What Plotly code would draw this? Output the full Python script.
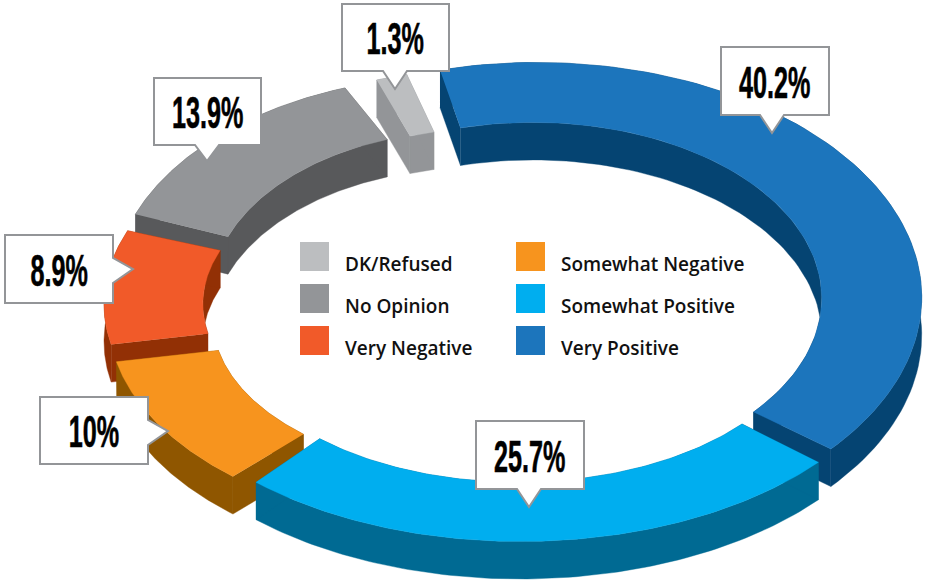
import numpy as np
import plotly.graph_objects as go

# ---- data, clockwise from the top ----
categories = ["Very Positive", "Somewhat Positive", "Somewhat Negative",
              "Very Negative", "No Opinion", "DK/Refused"]
shares = [40.2, 25.7, 10, 8.9, 13.9, 1.3]
value_labels = ["40.2%", "25.7%", "10%", "8.9%", "13.9%", "1.3%"]

# ---- style ----
TOP = ["#1C75BC", "#00AEEF", "#F7941E", "#F15A29", "#939598", "#BCBEC0"]
SIDE = ["#054472", "#006A93", "#8F5600", "#923005", "#58595B", "#939598"]
# slice centre and radii on screen (the picture's perspective and explosion)
CENTRES = [(536.7, 297.5), (520.5, 318), (494, 320), (470, 304), (459, 290), (503.5, 300)]
RADII_X = [385, 390, 385, 366, 346, 385]
RADII_Y = [235, 223.5, 213, 207, 214, 233]
HOLE_CENTRES = [(533, 298.4), (518.3, 318), (494, 320), (470, 304), (473.6, 295), (511, 300)]
HOLES_X = [0.75, 0.751, 0.73, 0.73, 0.759, 0.797]
HOLES_Y = [0.749, 0.735, 0.73, 0.73, 0.77, 0.745]
DEPTH, START = 37.5, -14.55
DRAW_ORDER = [0, 5, 4, 3, 2, 1]
BOXES = {  # callout box x0, y0, x1, y1, then pointer side and pointer tip
    "40.2%": (721, 47, 829, 115, "b", 772, 133),
    "25.7%": (476, 421, 584, 489, "b", 529, 507),
    "10%": (40, 397, 148, 464, "r", 168, 431),
    "8.9%": (5, 235, 113, 303, "r", 133, 269),
    "13.9%": (154, 78, 261, 145, "b", 207, 161),
    "1.3%": (342, 4, 449, 71, "b", 395, 89),
}
LEGEND = [("DK/Refused", 0, 0), ("No Opinion", 0, 1), ("Very Negative", 0, 2),
          ("Somewhat Negative", 1, 0), ("Somewhat Positive", 1, 1), ("Very Positive", 1, 2)]

fig = go.Figure()


def poly(xs, ys, colour):
    fig.add_trace(go.Scatter(x=xs, y=ys, mode="lines", fill="toself", fillcolor=colour,
                             line=dict(color=colour, width=0.4), hoverinfo="skip", showlegend=False))


edges = START + np.cumsum([0] + [s * 3.6 for s in shares])
for i in DRAW_ORDER:
    cx, cy = CENTRES[i]
    hx, hy = HOLE_CENTRES[i]
    rx, ry = RADII_X[i], RADII_Y[i]
    t = np.radians(np.linspace(edges[i], edges[i + 1], 90))
    ox, oy = cx + rx * np.sin(t), cy - ry * np.cos(t)
    ix, iy = hx + rx * HOLES_X[i] * np.sin(t), hy - ry * HOLES_Y[i] * np.cos(t)

    for ax, ay in ((ox, oy), (ix, iy)):
        poly(list(ax) + list(ax[::-1]), list(ay) + list((ay + DEPTH)[::-1]), SIDE[i])
    for e in (0, -1):
        poly([ox[e], ix[e], ix[e], ox[e]], [oy[e], iy[e], iy[e] + DEPTH, oy[e] + DEPTH], SIDE[i])
    poly(list(ox) + list(ix[::-1]), list(oy) + list(iy[::-1]), TOP[i])

# legend
for name, col, row in LEGEND:
    i = categories.index(name)
    x0, y0 = 300 + col * 216, 242 + row * 42
    fig.add_trace(go.Scatter(x=[x0 + 14.5], y=[y0 + 14.5], mode="markers", hoverinfo="skip", showlegend=False,
                             marker=dict(symbol="square", size=29, color=TOP[i], line=dict(width=0))))
    fig.add_annotation(x=x0 + 43, y=y0 + 22, text=name, showarrow=False, xanchor="left", yanchor="middle",
                       font=dict(family="Open Sans", size=19, color="#111111", weight=600))

# callouts
shapes = []
for lab in value_labels:
    x0, y0, x1, y1, side, tx, ty = BOXES[lab]
    if side == "b":
        path = f"M{x0},{y0} L{x1},{y0} L{x1},{y1} L{tx+12},{y1} L{tx},{ty} L{tx-12},{y1} L{x0},{y1} Z"
    else:
        path = f"M{x0},{y0} L{x1},{y0} L{x1},{ty-11} L{tx},{ty} L{x1},{ty+14} L{x1},{y1} L{x0},{y1} Z"
    shapes.append(dict(type="path", path=path, xref="x", yref="y", fillcolor="white",
                       line=dict(color="#939598", width=2), layer="above"))
    fig.add_annotation(x=(x0 + x1) / 2, y=(y0 + y1) / 2 + 1, text=lab, showarrow=False,
                       font=dict(family="Liberation Sans", size=45, color="black", weight="bold"))

fig.update_layout(width=925, height=581, margin=dict(l=0, r=0, t=0, b=0), autosize=False,
                  paper_bgcolor="white", plot_bgcolor="white", shapes=shapes,
                  xaxis=dict(range=[0, 925], visible=False, fixedrange=True),
                  yaxis=dict(range=[581, 0], visible=False, fixedrange=True))

# no condensed face is installed: squeeze the percentage labels horizontally, they stay real text
SQUEEZE = """
document.body.style.margin='0';
document.querySelectorAll('text.annotation-text').forEach(function(t){
  if (/%$/.test(t.textContent)) {
    t.setAttribute('lengthAdjust','spacingAndGlyphs');
    t.setAttribute('textLength', t.getComputedTextLength()*0.56);
    t.style.stroke='black'; t.style.strokeWidth='0.6px';
  }
});
"""
fig.write_html("out.html", config={"displayModeBar": False}, post_script=SQUEEZE)
